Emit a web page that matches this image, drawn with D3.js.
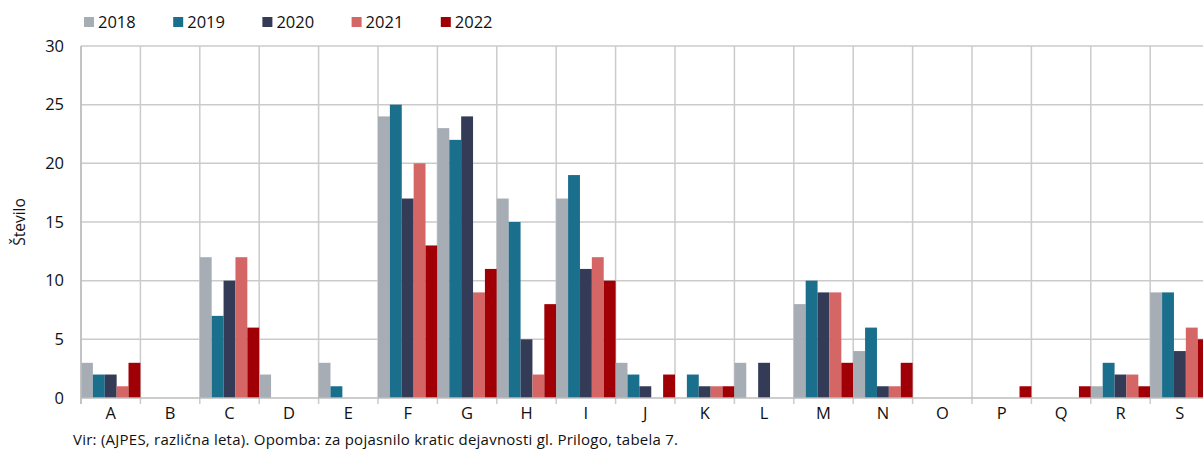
<!DOCTYPE html>
<html lang="sl">
<head>
<meta charset="UTF-8">
<script src="https://d3js.org/d3.v7.min.js"></script>
<style>
  body { margin: 0; background: #fff; overflow: hidden; }
  svg { display: block; font-family: "Open Sans", sans-serif; }
</style>
</head>
<body>
<svg width="1203" height="450"></svg>
<script>
const categories = ["A","B","C","D","E","F","G","H","I","J","K","L","M","N","O","P","Q","R","S"];
const years = ["2018","2019","2020","2021","2022"];
const colors = ["#a7adb4","#1a6f8c","#333b56","#d46666","#a00005"];
const v2018 = [3,0,12,2,3,24,23,17,17,3,0,3,8,4,0,0,0,1,9];
const v2019 = [2,0,7,0,1,25,22,15,19,2,2,0,10,6,0,0,0,3,9];
const v2020 = [2,0,10,0,0,17,24,5,11,1,1,3,9,1,0,0,0,2,4];
const v2021 = [1,0,12,0,0,20,9,2,12,0,1,0,9,1,0,0,0,2,6];
const v2022 = [3,0,6,0,0,13,11,8,10,2,1,0,3,3,0,1,1,1,5];
const yTicks = [0,5,10,15,20,25,30];
const series = [v2018, v2019, v2020, v2021, v2022];

const svg = d3.select("svg");
const plotLeft = 81, plotTop = 46, plotBottom = 398;
const catW = 59.4;
const plotRight = plotLeft + catW * categories.length;

const x = d3.scaleBand().domain(categories).range([plotLeft, plotRight]).padding(0);
const xi = d3.scaleBand().domain(years).range([0, x.bandwidth()]).padding(0);
const y = d3.scaleLinear().domain([0, 30]).range([plotBottom, plotTop]);

const grid = "#cbcbcb";

// horizontal grid
svg.append("g").selectAll("line").data(yTicks.filter(d => d > 0)).enter().append("line")
  .attr("x1", plotLeft).attr("x2", plotRight)
  .attr("y1", d => y(d)).attr("y2", d => y(d))
  .attr("stroke", grid).attr("stroke-width", 1.5);

// vertical grid at category boundaries
const bounds = categories.map(c => x(c)).concat([plotRight]);
svg.append("g").selectAll("line").data(bounds).enter().append("line")
  .attr("x1", d => d).attr("x2", d => d)
  .attr("y1", plotTop).attr("y2", plotBottom + 6)
  .attr("stroke", grid).attr("stroke-width", 1.5);

// bars
const rows = [];
categories.forEach((c, i) => years.forEach((yr, j) => rows.push({c, yr, j, v: series[j][i]})));
svg.append("g").selectAll("rect").data(rows.filter(d => d.v > 0)).enter().append("rect")
  .attr("x", d => x(d.c) + xi(d.yr))
  .attr("width", xi.bandwidth())
  .attr("y", d => y(d.v))
  .attr("height", d => y(0) - y(d.v))
  .attr("fill", d => colors[d.j]);

// baseline and left axis
svg.append("line").attr("x1", plotLeft).attr("x2", plotRight).attr("y1", plotBottom).attr("y2", plotBottom)
  .attr("stroke", "#bdbdbd").attr("stroke-width", 1.5);
svg.append("line").attr("x1", plotLeft).attr("x2", plotLeft).attr("y1", plotTop).attr("y2", plotBottom + 6)
  .attr("stroke", "#bdbdbd").attr("stroke-width", 1.5);

// y tick labels
svg.append("g").selectAll("text").data(yTicks).enter().append("text")
  .attr("x", 64).attr("y", d => y(d)).attr("dy", "0.35em")
  .attr("text-anchor", "end").attr("font-size", 16.5).attr("fill", "#111")
  .text(d => d);

// x labels
svg.append("g").selectAll("text").data(categories).enter().append("text")
  .attr("x", d => x(d) + x.bandwidth() / 2).attr("y", 419)
  .attr("text-anchor", "middle").attr("font-size", 16.5).attr("fill", "#111")
  .text(d => d);

// y title
svg.append("text").attr("transform", "translate(25," + ((plotTop + plotBottom) / 2) + ") rotate(-90)")
  .attr("text-anchor", "middle").attr("font-size", 15.5).attr("fill", "#111")
  .text("Število");

// legend
const lg = svg.append("g").selectAll("g").data(years).enter().append("g")
  .attr("transform", (d, i) => "translate(" + (84 + i * 89.2) + ",17)");
lg.append("rect").attr("width", 10).attr("height", 10).attr("fill", (d, i) => colors[i]);
lg.append("text").attr("x", 14).attr("y", 5).attr("dy", "0.36em")
  .attr("font-size", 16.5).attr("fill", "#111").text(d => d);

// footnote
svg.append("text").attr("x", 73).attr("y", 445).attr("font-size", 15).attr("fill", "#111")
  .attr("textLength", 605).attr("lengthAdjust", "spacing")
  .text("Vir: (AJPES, različna leta). Opomba: za pojasnilo kratic dejavnosti gl. Prilogo, tabela 7.");
</script>
</body>
</html>
